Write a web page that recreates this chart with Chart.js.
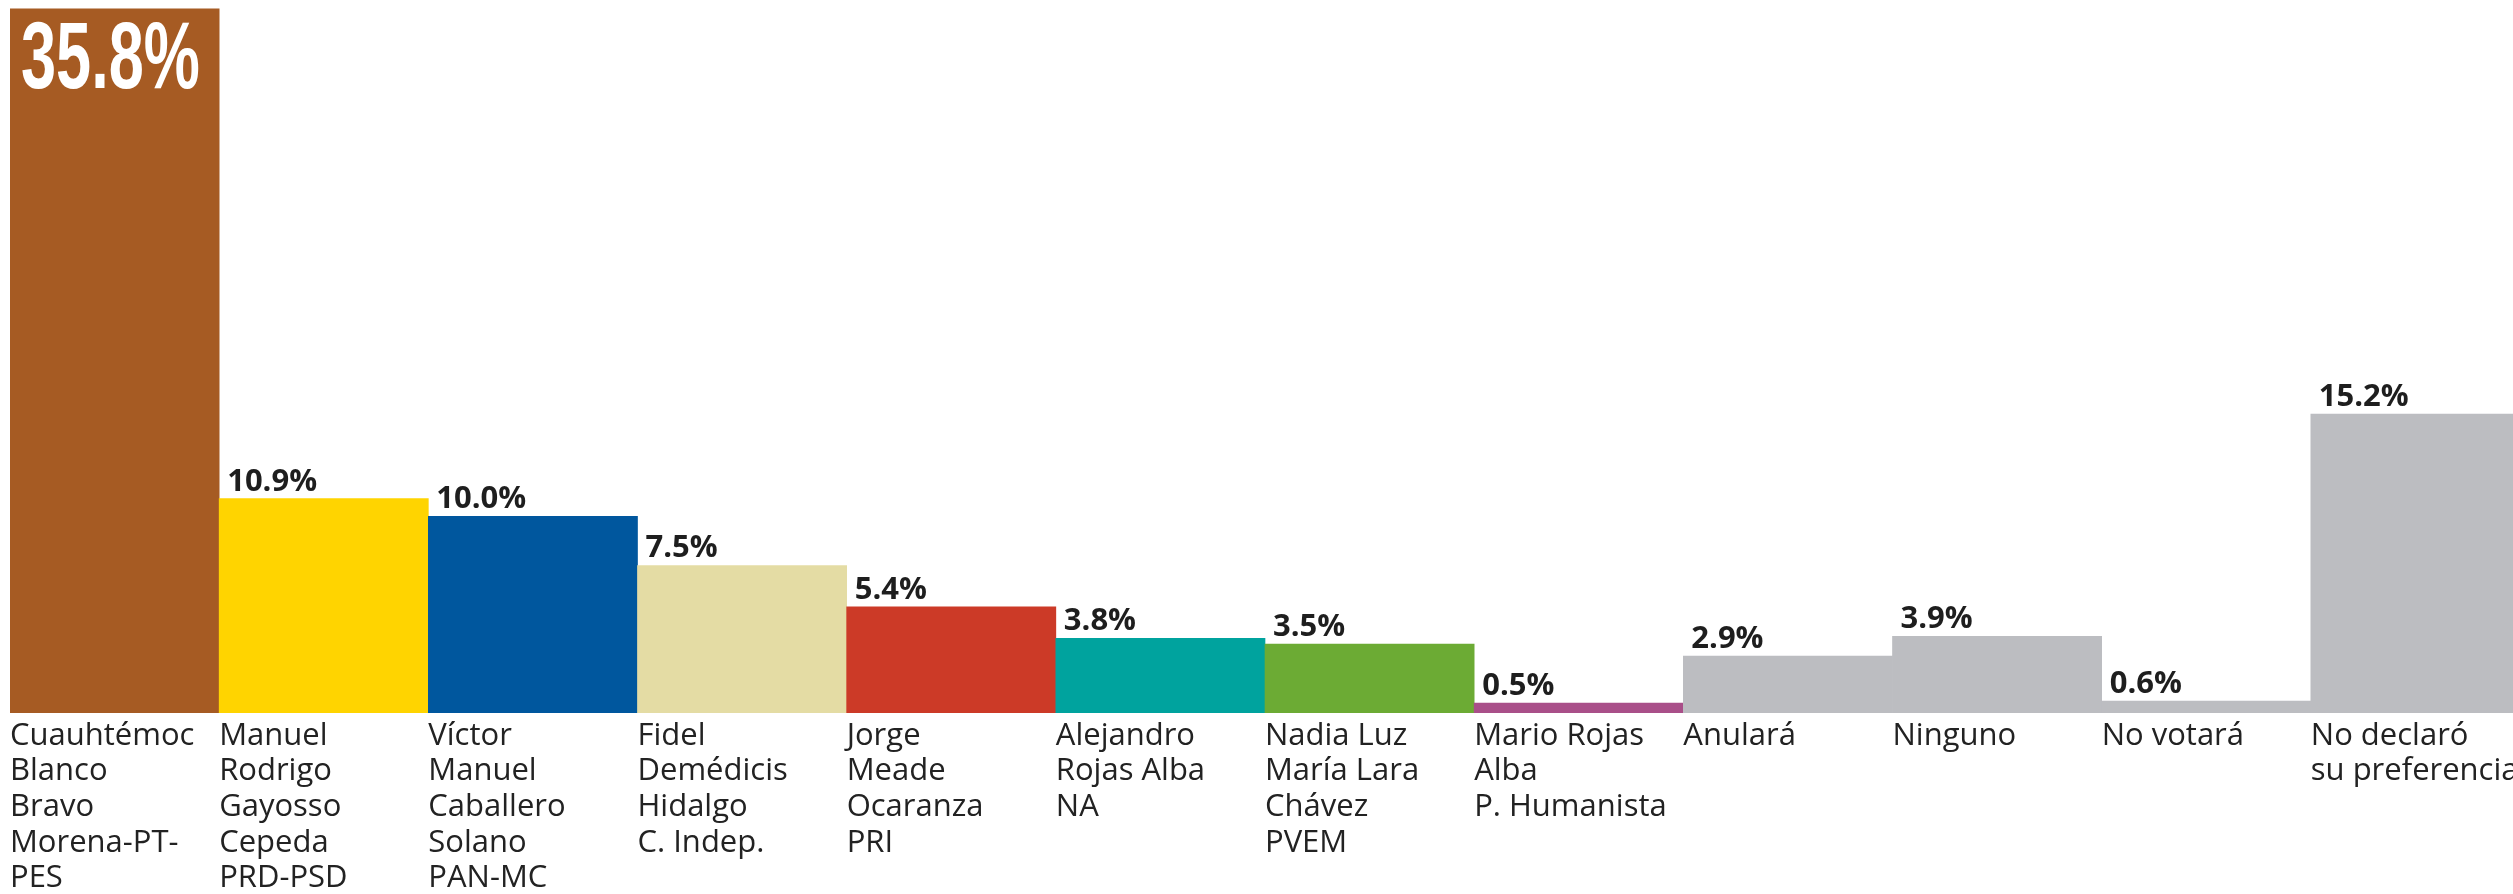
<!DOCTYPE html>
<html>
<head>
<meta charset="utf-8">
<script src="https://cdn.jsdelivr.net/npm/chart.js@4"></script>
<style>
  html, body { margin: 0; padding: 0; background: #fff; overflow: hidden; }
  #wrap { width: 2520px; height: 894px; }
</style>
</head>
<body>
<div id="wrap"><canvas id="chart" width="2520" height="894"></canvas></div>
<script>
const categories = [
  ["Cuauhtémoc", "Blanco", "Bravo", "Morena-PT-", "PES"],
  ["Manuel", "Rodrigo", "Gayosso", "Cepeda", "PRD-PSD"],
  ["Víctor", "Manuel", "Caballero", "Solano", "PAN-MC"],
  ["Fidel", "Demédicis", "Hidalgo", "C. Indep."],
  ["Jorge", "Meade", "Ocaranza", "PRI"],
  ["Alejandro", "Rojas Alba", "NA"],
  ["Nadia Luz", "María Lara", "Chávez", "PVEM"],
  ["Mario Rojas", "Alba", "P. Humanista"],
  ["Anulará"],
  ["Ninguno"],
  ["No votará"],
  ["No declaró", "su preferencia"]
];
const values = [35.8, 10.9, 10.0, 7.5, 5.4, 3.8, 3.5, 0.5, 2.9, 3.9, 0.6, 15.2];
const barColors = [
  "#a65b23", "#ffd400", "#00579e", "#e4dca4", "#cc3a27", "#00a39e",
  "#6cab34", "#a94f89", "#bcbdc1", "#bcbdc1", "#bcbdc1", "#bcbdc1"
];

// value labels: first bar gets the big white number inside, others sit on top
const valueLabels = {
  id: "valueLabels",
  afterDatasetsDraw(chart) {
    const ctx = chart.ctx;
    const meta = chart.getDatasetMeta(0);
    meta.data.forEach((bar, i) => {
      const left = bar.x - bar.width / 2;
      const txt = values[i].toFixed(1) + "%";
      ctx.save();
      if (i === 0) {
        ctx.fillStyle = "#ffffff";
        ctx.font = "bold 95px 'Liberation Sans', sans-serif";
        ctx.textBaseline = "alphabetic";
        const w = ctx.measureText(txt).width;
        ctx.translate(left + 11, bar.y + 79);
        ctx.scale(179 / w, 1);
        ctx.fillText(txt, 0, 0);
      } else {
        ctx.fillStyle = "#1e1e1e";
        ctx.font = "bold 31px 'Open Sans', sans-serif";
        ctx.textBaseline = "alphabetic";
        ctx.fillText(txt, left + 8, bar.y - 8);
      }
      ctx.restore();
    });
  }
};

const ctx = document.getElementById("chart").getContext("2d");
new Chart(ctx, {
  type: "bar",
  data: {
    labels: categories,
    datasets: [{
      data: values,
      backgroundColor: barColors,
      borderWidth: 0,
      barPercentage: 1,
      categoryPercentage: 1
    }]
  },
  options: {
    responsive: false,
    animation: false,
    layout: { padding: { left: 10, right: 0, top: 0, bottom: 0 } },
    plugins: { legend: { display: false }, tooltip: { enabled: false } },
    scales: {
      y: { display: false, min: 0, max: 36.25 },
      x: {
        grid: { display: false, drawTicks: false },
        border: { display: false },
        afterFit: (scale) => {
          scale.height = 181;
          scale.paddingLeft = 0;
          scale.paddingRight = 0;
        },
        ticks: {
          autoSkip: false,
          maxRotation: 0,
          minRotation: 0,
          align: "start",
          labelOffset: -104.6,
          padding: 5,
          color: "#222222",
          font: { family: "'Open Sans', sans-serif", size: 31, lineHeight: 1.15 }
        }
      }
    }
  },
  plugins: [valueLabels]
});
</script>
</body>
</html>
